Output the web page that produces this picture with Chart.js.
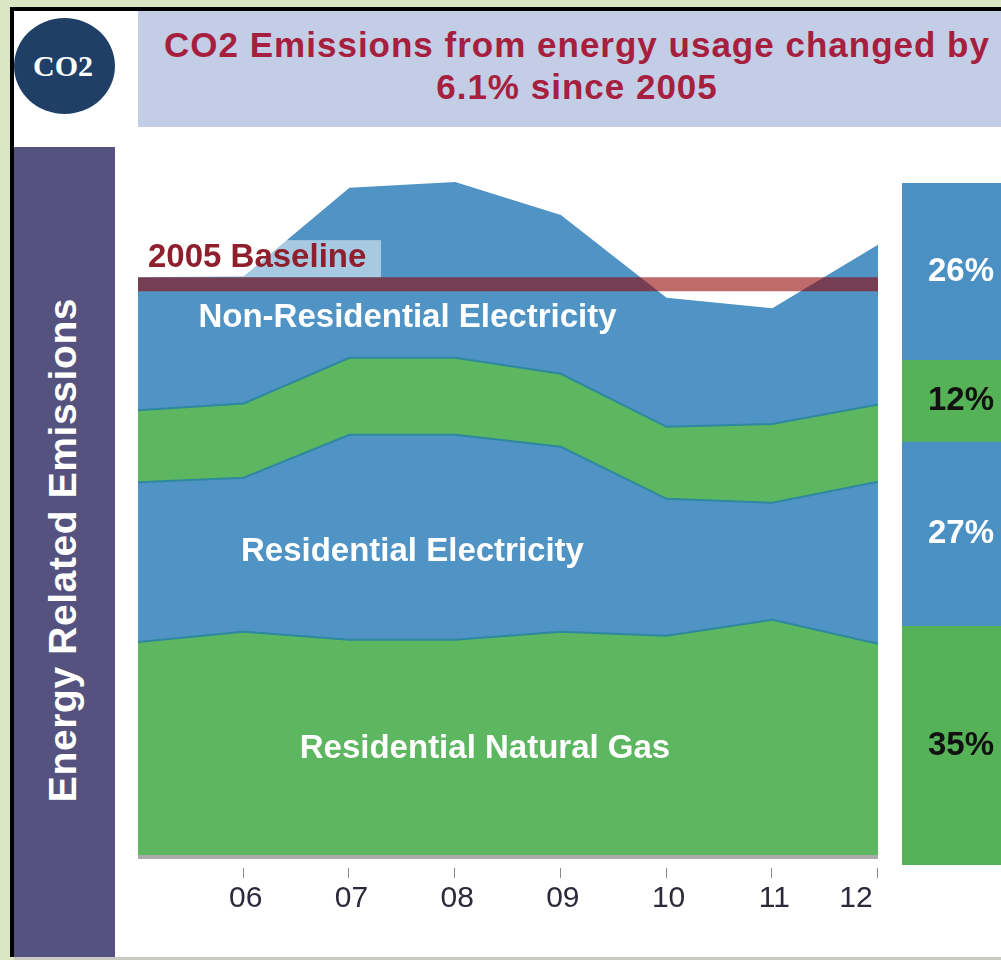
<!DOCTYPE html>
<html><head><meta charset="utf-8">
<script src="https://cdn.jsdelivr.net/npm/chart.js@4"></script>
<style>
html,body{margin:0;padding:0;width:1001px;height:960px;overflow:hidden;background:#DAE5C3;font-family:"Liberation Sans",Arial,sans-serif}
#root{position:absolute;left:0;top:0;width:1001px;height:960px;overflow:hidden;filter:blur(.6px);background:#DAE5C3}
#frame{position:absolute;left:10px;top:7px;width:991px;height:950px;background:#000}
#panel{position:absolute;left:14px;top:11px;width:987px;height:946px;background:#fff}
#foot{position:absolute;left:14px;top:957px;width:987px;height:3px;background:#C9CBC2}
#head{position:absolute;left:138px;top:11px;width:863px;height:116px;background:#C3CDE6}
#title{position:absolute;left:138px;top:24px;width:878px;text-align:center;color:#A61F3E;font-weight:bold;font-size:35px;line-height:42px;letter-spacing:1px}
#badge{position:absolute;left:14px;top:18px;width:101px;height:96px;border-radius:50%;background:#1F3F66;color:#fff;text-align:center;font:bold 30px/96px "Liberation Serif",serif;text-indent:-3px}
#side{position:absolute;left:14px;top:147px;width:101px;height:810px;background:#55527F}
#sideText{position:absolute;left:63px;top:550px;transform:translate(-50%,-50%) rotate(-90deg);white-space:nowrap;color:#fff;font-weight:bold;font-size:39px;letter-spacing:.6px}
#c1{position:absolute;left:120px;top:150px}
#c2{position:absolute;left:902px;top:183px}
</style></head>
<body>
<div id="root">
<div id="frame"></div><div id="panel"></div><div id="foot"></div>
<div id="head"></div>
<div id="title">CO2 Emissions from energy usage changed by<br>6.1% since 2005</div>
<div id="badge">CO2</div>
<div id="side"></div>
<div id="sideText">Energy Related Emissions</div>
<canvas id="c1" width="780" height="810"></canvas>
<canvas id="c2" width="99" height="682"></canvas>
</div>
<script>
const years = ['05','06','07','08','09','10','11','12'];
const residentialNaturalGas   = [37.3,39.1,37.7,37.7,39.1,38.4,41.2,37.0];
const residentialElectricity  = [28.0,27.0,35.9,35.9,32.4,24.0,20.5,28.4];
const nonResidentialGas       = [12.6,13.0,13.5,13.5,12.8,12.6,13.8,13.5];
const nonResidentialElectricity = [23.3,22.3,29.8,30.8,27.8,22.6,20.3,28.0];
const baseline2005 = [100,100,100,100,100,100,100,100];
const shareLabels = ['35%','27%','12%','26%'];
const shareValues = [35,27,12,26];

const BLUE='#5093C5', GREEN='#5DB660', EDGE='#2F87A0';
const FONT='"Liberation Sans",Arial,sans-serif';

const decor = {
  id:'decor',
  beforeDraw(c){
    const x=c.scales.x, items=x.getLabelItems();
    const last=items[items.length-1];
    if(last) last.options.translation[0]=x.getPixelForTick(7)-22;
  },
  afterDatasetsDraw(c){
    const g=c.ctx,a=c.chartArea,x=c.scales.x,y=c.scales.y;
    g.save();
    g.fillStyle='#ABABAB';
    g.fillRect(a.left,a.bottom,a.right-a.left,4);
    g.fillStyle='#8A8A8A';
    for(let i=1;i<years.length;i++) g.fillRect(Math.round(x.getPixelForTick(i))-1,a.bottom+13,1,10);
    const by=y.getPixelForValue(100);
    g.fillStyle='rgba(255,255,255,.5)';
    g.fillRect(a.left,by-44,243,37);
    g.fillStyle='#8E1F2C';
    g.font='bold 33px '+FONT; g.textAlign='left'; g.textBaseline='middle';
    g.fillText('2005 Baseline',a.left+10,by-26);
    g.fillStyle='#fff';
    g.textAlign='center';
    const w=a.right-a.left;
    g.fillText('Non-Residential Electricity',a.left+w*0.3642,y.getPixelForValue(94.1));
    g.fillText('Residential Electricity',a.left+w*0.3709,y.getPixelForValue(53.1));
    g.fillText('Residential Natural Gas',a.left+w*0.4689,y.getPixelForValue(18.5));
    g.restore();
  }
};

new Chart(document.getElementById('c1'),{
  type:'line',
  plugins:[decor],
  data:{labels:years,datasets:[
    {label:'Residential Natural Gas',data:residentialNaturalGas,backgroundColor:GREEN,borderColor:EDGE,fill:'origin',stack:'e',order:1},
    {label:'Residential Electricity',data:residentialElectricity,backgroundColor:BLUE,borderColor:EDGE,fill:'-1',stack:'e',order:1},
    {label:'Non-Residential Gas',data:nonResidentialGas,backgroundColor:GREEN,borderColor:EDGE,fill:'-1',stack:'e',order:1},
    {label:'Non-Residential Electricity',data:nonResidentialElectricity,backgroundColor:BLUE,borderColor:'rgba(0,0,0,0)',fill:'-1',stack:'e',order:1},
    {label:'2005 Baseline',data:baseline2005,borderColor:'rgba(146,0,0,.58)',borderWidth:14,fill:false,stack:'b',order:0,borderCapStyle:'butt'}
  ]},
  options:{
    responsive:false,animation:false,
    layout:{padding:{left:18,right:22,top:0,bottom:0}},
    elements:{point:{radius:0},line:{tension:0,borderWidth:2}},
    plugins:{legend:{display:false},tooltip:{enabled:false}},
    scales:{
      x:{offset:false,grid:{display:false},border:{display:false},
         afterFit:s=>{s.height=105;s.paddingLeft=0;s.paddingRight=0;},
         ticks:{autoSkip:false,maxRotation:0,padding:18,labelOffset:2,color:'#2A2A3A',font:{family:FONT,size:30},
                callback(v,i){return i===0?'':years[i];}}},
      y:{display:false,stacked:true,min:0,max:123.5}
    }
  }
});

const shareColors=[ '#55B257','#4B90C3','#55B257','#4B90C3' ];
const shareText=[ '#111','#fff','#111','#fff' ];
const pct={id:'pct',afterDatasetsDraw(c){
  const g=c.ctx,y=c.scales.y;let acc=0;
  g.save();g.font='bold 33px '+FONT;g.textAlign='left';g.textBaseline='middle';
  shareValues.forEach((v,i)=>{
    g.fillStyle=shareText[i];
    g.fillText(shareLabels[i],26,y.getPixelForValue(acc+v/2));acc+=v;
  });
  g.restore();
}};
new Chart(document.getElementById('c2'),{
  type:'bar',
  plugins:[pct],
  data:{labels:['Share'],datasets:shareValues.map((v,i)=>({label:shareLabels[i],data:[v],backgroundColor:shareColors[i],barPercentage:1,categoryPercentage:1}))},
  options:{responsive:false,animation:false,
    plugins:{legend:{display:false},tooltip:{enabled:false}},
    scales:{x:{display:false,stacked:true},y:{display:false,stacked:true,min:0,max:100}}
  }
});
</script>
</body></html>
